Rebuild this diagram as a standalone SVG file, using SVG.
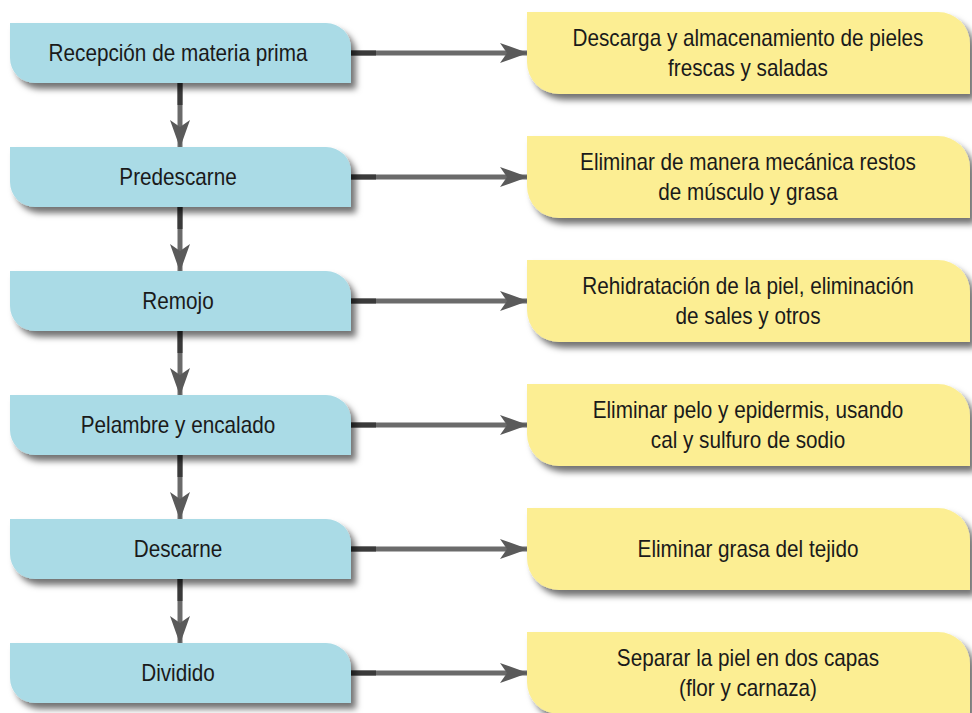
<svg xmlns="http://www.w3.org/2000/svg" width="972" height="713" viewBox="0 0 972 713">
<defs>
<filter id="sh" x="-10%" y="-20%" width="125%" height="160%">
<feDropShadow dx="5" dy="6" stdDeviation="3" flood-color="#000" flood-opacity="0.55"/>
</filter>
<marker id="ah" viewBox="0 0 28 20" refX="27" refY="10" markerWidth="28" markerHeight="20" markerUnits="userSpaceOnUse" orient="auto">
<path d="M0,0 L28,10 L0,20 L7,10 Z" fill="#5a5a5a"/>
</marker>
</defs>
<style>
.blue{fill:#aadbe6;filter:url(#sh)}
.yel{fill:#fcee93;filter:url(#sh)}
text{font-family:"Liberation Sans Narrow","Liberation Sans",Arial,sans-serif;font-size:23px;fill:#1a1a1a;text-anchor:middle}
.ln{stroke:#6b6b6b;stroke-width:5;fill:none}
.dk{stroke:#3a3a3a;stroke-width:5;fill:none}
</style>
<g id="connectors">
<g id="h1"><line class="ln" x1="350" y1="53" x2="527" y2="53" marker-end="url(#ah)"/><line class="dk" x1="350" y1="53" x2="376" y2="53"/></g>
<g id="h2"><line class="ln" x1="350" y1="177" x2="527" y2="177" marker-end="url(#ah)"/><line class="dk" x1="350" y1="177" x2="376" y2="177"/></g>
<g id="h3"><line class="ln" x1="350" y1="301" x2="527" y2="301" marker-end="url(#ah)"/><line class="dk" x1="350" y1="301" x2="376" y2="301"/></g>
<g id="h4"><line class="ln" x1="350" y1="425" x2="527" y2="425" marker-end="url(#ah)"/><line class="dk" x1="350" y1="425" x2="376" y2="425"/></g>
<g id="h5"><line class="ln" x1="350" y1="549" x2="527" y2="549" marker-end="url(#ah)"/><line class="dk" x1="350" y1="549" x2="376" y2="549"/></g>
<g id="h6"><line class="ln" x1="350" y1="673" x2="527" y2="673" marker-end="url(#ah)"/><line class="dk" x1="350" y1="673" x2="376" y2="673"/></g>
<g id="v1"><line class="ln" x1="180" y1="83" x2="180" y2="147" marker-end="url(#ah)"/><line class="dk" x1="180" y1="83" x2="180" y2="105"/></g>
<g id="v2"><line class="ln" x1="180" y1="207" x2="180" y2="271" marker-end="url(#ah)"/><line class="dk" x1="180" y1="207" x2="180" y2="229"/></g>
<g id="v3"><line class="ln" x1="180" y1="331" x2="180" y2="395" marker-end="url(#ah)"/><line class="dk" x1="180" y1="331" x2="180" y2="353"/></g>
<g id="v4"><line class="ln" x1="180" y1="455" x2="180" y2="519" marker-end="url(#ah)"/><line class="dk" x1="180" y1="455" x2="180" y2="477"/></g>
<g id="v5"><line class="ln" x1="180" y1="579" x2="180" y2="643" marker-end="url(#ah)"/><line class="dk" x1="180" y1="579" x2="180" y2="601"/></g>
</g>
<g id="n1"><path class="blue" d="M10,23 H326 A25,25 0 0 1 351,48 V83 H35 A25,25 0 0 1 10,58 Z"/><text transform="translate(178,61) scale(0.9,1)">Recepción de materia prima</text></g>
<g id="n2"><path class="blue" d="M10,147 H326 A25,25 0 0 1 351,172 V207 H35 A25,25 0 0 1 10,182 Z"/><text transform="translate(178,185) scale(0.9,1)">Predescarne</text></g>
<g id="n3"><path class="blue" d="M10,271 H326 A25,25 0 0 1 351,296 V331 H35 A25,25 0 0 1 10,306 Z"/><text transform="translate(178,309) scale(0.9,1)">Remojo</text></g>
<g id="n4"><path class="blue" d="M10,395 H326 A25,25 0 0 1 351,420 V455 H35 A25,25 0 0 1 10,430 Z"/><text transform="translate(178,433) scale(0.9,1)">Pelambre y encalado</text></g>
<g id="n5"><path class="blue" d="M10,519 H326 A25,25 0 0 1 351,544 V579 H35 A25,25 0 0 1 10,554 Z"/><text transform="translate(178,557) scale(0.9,1)">Descarne</text></g>
<g id="n6"><path class="blue" d="M10,643 H326 A25,25 0 0 1 351,668 V703 H35 A25,25 0 0 1 10,678 Z"/><text transform="translate(178,681) scale(0.9,1)">Dividido</text></g>
<g id="d1"><path class="yel" d="M527,12 H938 A32,32 0 0 1 970,44 V94 H559 A32,32 0 0 1 527,62 Z"/><text transform="translate(748,46) scale(0.9,1)">Descarga y almacenamiento de pieles</text><text transform="translate(748,76) scale(0.9,1)">frescas y saladas</text></g>
<g id="d2"><path class="yel" d="M527,136 H938 A32,32 0 0 1 970,168 V218 H559 A32,32 0 0 1 527,186 Z"/><text transform="translate(748,170) scale(0.9,1)">Eliminar de manera mecánica restos</text><text transform="translate(748,200) scale(0.9,1)">de músculo y grasa</text></g>
<g id="d3"><path class="yel" d="M527,260 H938 A32,32 0 0 1 970,292 V342 H559 A32,32 0 0 1 527,310 Z"/><text transform="translate(748,294) scale(0.9,1)">Rehidratación de la piel, eliminación</text><text transform="translate(748,324) scale(0.9,1)">de sales y otros</text></g>
<g id="d4"><path class="yel" d="M527,384 H938 A32,32 0 0 1 970,416 V466 H559 A32,32 0 0 1 527,434 Z"/><text transform="translate(748,418) scale(0.9,1)">Eliminar pelo y epidermis, usando</text><text transform="translate(748,448) scale(0.9,1)">cal y sulfuro de sodio</text></g>
<g id="d5"><path class="yel" d="M527,508 H938 A32,32 0 0 1 970,540 V590 H559 A32,32 0 0 1 527,558 Z"/><text transform="translate(748,557) scale(0.9,1)">Eliminar grasa del tejido</text></g>
<g id="d6"><path class="yel" d="M527,632 H938 A32,32 0 0 1 970,664 V714 H559 A32,32 0 0 1 527,682 Z"/><text transform="translate(748,666) scale(0.9,1)">Separar la piel en dos capas</text><text transform="translate(748,696) scale(0.9,1)">(flor y carnaza)</text></g>
</svg>
